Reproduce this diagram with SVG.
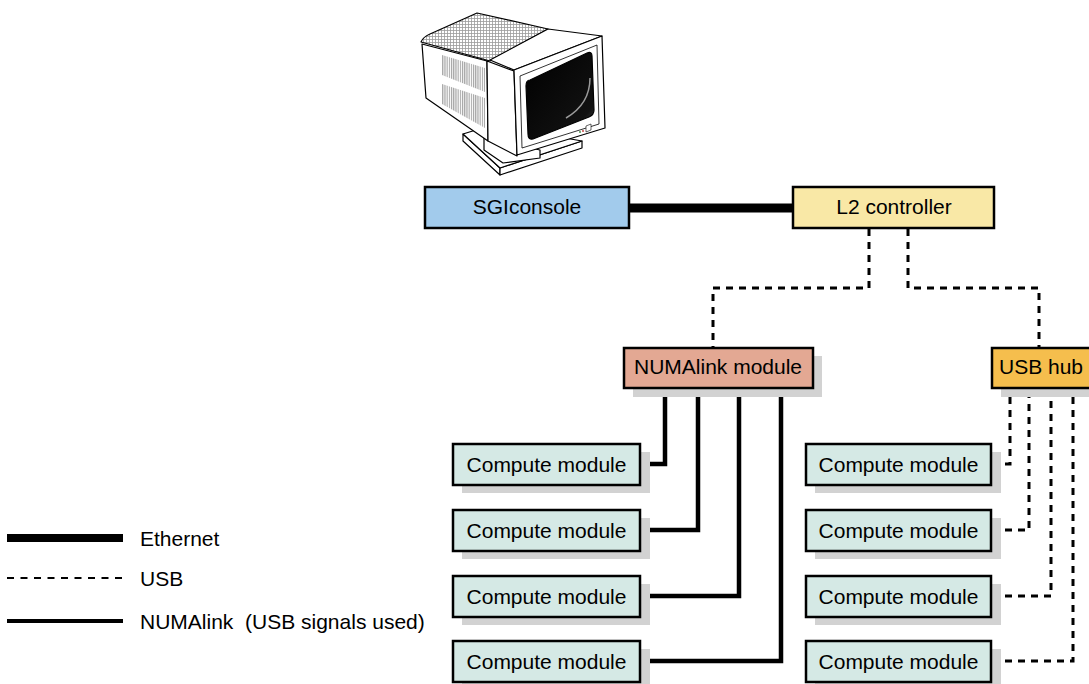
<svg xmlns="http://www.w3.org/2000/svg" width="1089" height="684" viewBox="0 0 1089 684">
  <defs>
    <pattern id="grille" width="3" height="3" patternUnits="userSpaceOnUse">
      <rect width="3" height="3" fill="#fff"/>
      <path d="M0,0.5 H3 M0.5,0 V3" stroke="#9a9a9a" stroke-width="0.8"/>
    </pattern>
    <pattern id="vent" width="2.2" height="4" patternUnits="userSpaceOnUse">
      <rect width="2.2" height="4" fill="#fff"/>
      <path d="M0.6,0 V4" stroke="#8a8a8a" stroke-width="0.9"/>
    </pattern>
    <linearGradient id="glass" x1="0" y1="0" x2="1" y2="1">
      <stop offset="0" stop-color="#000"/>
      <stop offset="0.8" stop-color="#111"/>
      <stop offset="1" stop-color="#555"/>
    </linearGradient>
  </defs>
  <style>
    .box { stroke: #000; stroke-width: 2.5; }
    .shadow { fill: #d2d2d2; }
    .label { font-family: "Liberation Sans", Arial, sans-serif; font-size: 21px; fill: #000; text-anchor: middle; }
    .legend { font-family: "Liberation Sans", Arial, sans-serif; font-size: 21px; fill: #000; }
    .eth { fill: none; stroke: #000; stroke-width: 9; }
    .usb { fill: none; stroke: #000; stroke-width: 3; stroke-dasharray: 7 6; }
    .numa { fill: none; stroke: #000; stroke-width: 4.5; stroke-linejoin: miter; }
  </style>

  <rect width="1089" height="684" fill="#fff"/>

  <!-- Console monitor illustration -->
  <g id="monitor" stroke="#000" stroke-width="1.2" stroke-linejoin="round">
    <!-- base plate -->
    <path d="M463,134 L500,168 L500,175 L463,141 Z" fill="#fff"/>
    <path d="M500,168 L582,141 L582,148 L500,175 Z" fill="#fff"/>
    <path d="M463,134 L492,125 L582,141 L500,168 Z" fill="#fff"/>
    <!-- neck -->
    <path d="M484,138 L540,150 L540,158 L503,163 L484,150 Z" fill="#fff"/>
    <!-- cabinet left side with vents -->
    <path d="M422,44 L487,61 L488,141 L426,98 Z" fill="#fff"/>
    <path d="M442,55 L485,68 L485,92 L442,75 Z" fill="url(#vent)" stroke="none"/>
    <path d="M442,84 L485,98 L485,128 L442,104 Z" fill="url(#vent)" stroke="none"/>
    <!-- cabinet top grille -->
    <path d="M421,42 Q423,37 430,34 L477,13 L548,29 L490,61 Z" fill="url(#grille)"/>
    <!-- housing between cabinet and bezel -->
    <path d="M487,61 L514,71 L517,156 L488,141 Z" fill="#fff"/>
    <path d="M490,60 L548,29 L602,36 L514,70 Z" fill="#fff"/>
    <!-- bezel -->
    <path d="M514,70 L602,36 L605,128 L517,155 Z" fill="#fff"/>
    <path d="M520,76 L597,45 L599,124 L522,148 Z" fill="#fff" stroke-width="0.8"/>
    <!-- screen -->
    <path d="M530,80 Q526,80 526,86 L528,134 Q528,140 533,139 L589,117 Q594,115 594,110 L592,56 Q592,51 587,53 Z" fill="url(#glass)"/>
    <path d="M590,78 Q590,104 566,118" fill="none" stroke="#9a9a9a" stroke-width="1.5"/>
    <!-- front controls -->
    <circle cx="580" cy="132" r="0.9" fill="#3a8a3a" stroke="none"/>
    <circle cx="583" cy="131" r="0.9" fill="#c03030" stroke="none"/>
    <path d="M586,126 L591,124 L591,130 L586,132 Z" fill="#fff" stroke-width="0.6"/>
  </g>

  <!-- Connectors -->
  <g id="connectors">
    <!-- Ethernet -->
    <path class="eth" d="M629,208 H793"/>
    <!-- USB from L2 controller -->
    <path class="usb" d="M869,229 V288 H713 V348"/>
    <path class="usb" d="M908,229 V288 H1039 V348"/>
    <!-- NUMAlink to compute modules -->
    <path class="numa" d="M641,464 H665 V389"/>
    <path class="numa" d="M641,530 H698 V389"/>
    <path class="numa" d="M641,596 H739 V389"/>
    <path class="numa" d="M641,661 H781 V389"/>
    <!-- USB hub to compute modules -->
    <path class="usb" d="M992,464 H1010 V390"/>
    <path class="usb" d="M992,530 H1029 V390"/>
    <path class="usb" d="M992,596 H1051 V390"/>
    <path class="usb" d="M992,661 H1073 V390"/>
  </g>

  <!-- Nodes -->
  <g id="sgiconsole">
    <rect class="box" x="425" y="187" width="204" height="41" fill="#a2cbec"/>
    <text class="label" x="527" y="214">SGIconsole</text>
  </g>
  <g id="l2-controller">
    <rect class="box" x="793" y="187" width="201" height="41" fill="#f9e8a6"/>
    <text class="label" x="894" y="214">L2 controller</text>
  </g>
  <g id="numalink-module">
    <rect class="shadow" x="633" y="356" width="189" height="41"/>
    <rect class="box" x="624" y="348" width="189" height="40" fill="#e3a893"/>
    <text class="label" x="718" y="374">NUMAlink module</text>
  </g>
  <g id="usb-hub">
    <rect class="shadow" x="1001" y="356" width="100" height="41"/>
    <rect class="box" x="992" y="348" width="110" height="40" fill="#f5be4d"/>
    <text class="label" x="1041" y="374">USB hub</text>
  </g>

  <g id="compute-left-1">
    <rect class="shadow" x="462" y="452" width="188" height="41"/>
    <rect class="box" x="453" y="444" width="187" height="41" fill="#d5e9e5"/>
    <text class="label" x="546.5" y="472">Compute module</text>
  </g>
  <g id="compute-left-2">
    <rect class="shadow" x="462" y="518" width="188" height="41"/>
    <rect class="box" x="453" y="510" width="187" height="41" fill="#d5e9e5"/>
    <text class="label" x="546.5" y="538">Compute module</text>
  </g>
  <g id="compute-left-3">
    <rect class="shadow" x="462" y="584" width="188" height="41"/>
    <rect class="box" x="453" y="576" width="187" height="41" fill="#d5e9e5"/>
    <text class="label" x="546.5" y="604">Compute module</text>
  </g>
  <g id="compute-left-4">
    <rect class="shadow" x="462" y="649" width="188" height="41"/>
    <rect class="box" x="453" y="641" width="187" height="41" fill="#d5e9e5"/>
    <text class="label" x="546.5" y="669">Compute module</text>
  </g>

  <g id="compute-right-1">
    <rect class="shadow" x="815" y="452" width="186" height="41"/>
    <rect class="box" x="806" y="444" width="185" height="41" fill="#d5e9e5"/>
    <text class="label" x="898.5" y="472">Compute module</text>
  </g>
  <g id="compute-right-2">
    <rect class="shadow" x="815" y="518" width="186" height="41"/>
    <rect class="box" x="806" y="510" width="185" height="41" fill="#d5e9e5"/>
    <text class="label" x="898.5" y="538">Compute module</text>
  </g>
  <g id="compute-right-3">
    <rect class="shadow" x="815" y="584" width="186" height="41"/>
    <rect class="box" x="806" y="576" width="185" height="41" fill="#d5e9e5"/>
    <text class="label" x="898.5" y="604">Compute module</text>
  </g>
  <g id="compute-right-4">
    <rect class="shadow" x="815" y="649" width="186" height="41"/>
    <rect class="box" x="806" y="641" width="185" height="41" fill="#d5e9e5"/>
    <text class="label" x="898.5" y="669">Compute module</text>
  </g>

  <!-- Legend -->
  <g id="legend">
    <path d="M7,538 H123" stroke="#000" stroke-width="8" fill="none"/>
    <path d="M7,578 H123" stroke="#000" stroke-width="2.2" stroke-dasharray="7 6.5" fill="none"/>
    <path d="M7,621 H123" stroke="#000" stroke-width="4" fill="none"/>
    <text class="legend" x="140" y="546">Ethernet</text>
    <text class="legend" x="140" y="586">USB</text>
    <text class="legend" x="140" y="629" xml:space="preserve">NUMAlink  (USB signals used)</text>
  </g>
</svg>
